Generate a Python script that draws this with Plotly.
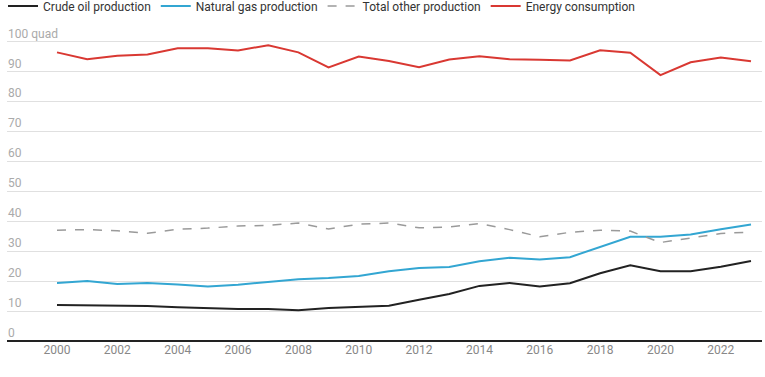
import plotly.graph_objects as go

years = list(range(2000, 2024))
crude_oil = [12.0, 11.9, 11.8, 11.7, 11.3, 10.9, 10.7, 10.7, 10.3, 11.0, 11.3, 11.8,
             13.8, 15.7, 18.4, 19.4, 18.2, 19.3, 22.6, 25.3, 23.3, 23.3, 24.8, 26.7]
natural_gas = [19.4, 20.0, 19.0, 19.4, 18.9, 18.2, 18.8, 19.7, 20.6, 21.0, 21.7, 23.3,
               24.4, 24.7, 26.6, 27.8, 27.2, 28.0, 31.4, 34.8, 34.8, 35.6, 37.3, 38.9]
other_prod = [37.0, 37.2, 36.8, 36.0, 37.3, 37.7, 38.4, 38.6, 39.4, 37.4, 39.0, 39.4,
              37.8, 38.1, 39.2, 37.2, 34.8, 36.3, 37.0, 36.7, 32.9, 34.3, 35.9, 36.4]
consumption = [96.4, 94.1, 95.3, 95.7, 97.8, 97.8, 97.0, 98.8, 96.4, 91.4, 95.0, 93.5,
               91.4, 94.0, 95.1, 94.1, 93.9, 93.7, 97.1, 96.3, 88.8, 93.1, 94.7, 93.4]

series_names = ["Crude oil production", "Natural gas production",
                "Total other production", "Energy consumption"]
y_tick_vals = [0, 10, 20, 30, 40, 50, 60, 70, 80, 90, 100]
y_tick_text = ["0", "10", "20", "30", "40", "50", "60", "70", "80", "90", "100 quad"]
x_tick_vals = list(range(2000, 2024, 2))

fig = go.Figure()
fig.add_trace(go.Scatter(x=years, y=crude_oil, name=series_names[0], mode="lines",
                         line=dict(color="#222222", width=2)))
fig.add_trace(go.Scatter(x=years, y=natural_gas, name=series_names[1], mode="lines",
                         line=dict(color="#33a6d2", width=2)))
fig.add_trace(go.Scatter(x=years, y=other_prod, name=series_names[2], mode="lines",
                         line=dict(color="#9a9a9a", width=1.5, dash="dash")))
fig.add_trace(go.Scatter(x=years, y=consumption, name=series_names[3], mode="lines",
                         line=dict(color="#d93832", width=2)))

# y-axis labels placed above gridlines, positioned via the y scale
for val, txt in zip(y_tick_vals, y_tick_text):
    fig.add_annotation(x=0, xref="paper", xanchor="left", y=val, yref="y",
                       yanchor="bottom", text=txt, showarrow=False, borderpad=0,
                       font=dict(family="Roboto", size=12, color="#aaaaaa"))

fig.update_layout(
    width=765, height=377,
    margin=dict(l=7, r=3, t=26, b=36, autoexpand=False),
    paper_bgcolor="white", plot_bgcolor="white",
    font=dict(family="Roboto", size=12, color="#333333"),
    showlegend=True,
    legend=dict(orientation="h", xref="paper", x=-0.0053, xanchor="left",
                yref="paper", y=1.0635, yanchor="middle",
                font=dict(size=12, color="#333333"), itemwidth=30,
                bgcolor="rgba(0,0,0,0)", tracegroupgap=0),
    hovermode=False,
)
fig.update_xaxes(
    range=[1998.343, 2023.365],
    tickvals=x_tick_vals, ticktext=[str(v) for v in x_tick_vals],
    showgrid=False, zeroline=False, showline=False,
    ticks="", tickfont=dict(size=12, color="#888888"),
)
fig.update_yaxes(
    range=[0, 105.2],
    tickvals=y_tick_vals, showticklabels=False,
    showgrid=True, gridcolor="#e0e0e0", gridwidth=1,
    zeroline=True, zerolinecolor="#222222", zerolinewidth=1.5,
    showline=False, ticks="",
)

fig.write_html("out.html", config={"displayModeBar": False},
               post_script="document.body.style.margin='0';document.body.style.overflow='hidden';")
